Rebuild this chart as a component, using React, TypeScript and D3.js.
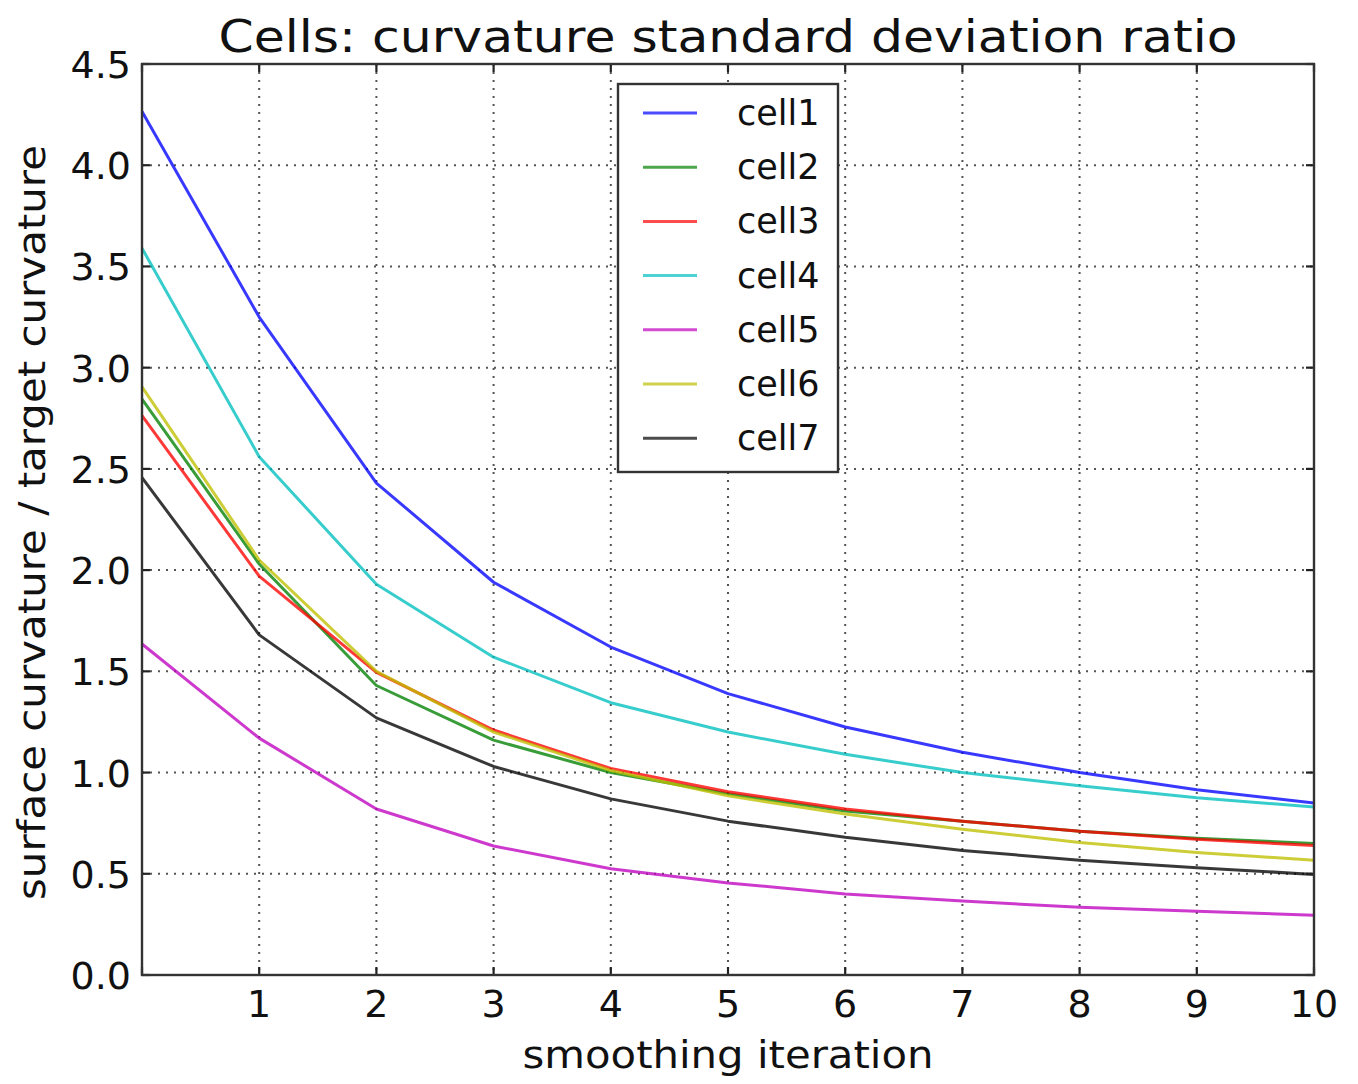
import React from "react";
import * as d3 from "d3";

const iterations = [0, 1, 2, 3, 4, 5, 6, 7, 8, 9, 10];
const seriesNames = ["cell1", "cell2", "cell3", "cell4", "cell5", "cell6", "cell7"];
const seriesColors = ["#0000ff", "#008000", "#ff0000", "#00bfbf", "#bf00bf", "#bfbf00", "#000000"];
const cell1 = [4.265, 3.25, 2.43, 1.94, 1.62, 1.39, 1.225, 1.1, 1.0, 0.915, 0.85];
const cell2 = [2.845, 2.03, 1.43, 1.16, 1.0, 0.895, 0.81, 0.76, 0.71, 0.675, 0.65];
const cell3 = [2.763, 1.97, 1.495, 1.21, 1.02, 0.905, 0.82, 0.76, 0.71, 0.67, 0.64];
const cell4 = [3.59, 2.56, 1.93, 1.57, 1.345, 1.2, 1.09, 1.0, 0.935, 0.875, 0.83];
const cell5 = [1.635, 1.17, 0.82, 0.637, 0.525, 0.455, 0.4, 0.365, 0.335, 0.315, 0.295];
const cell6 = [2.905, 2.05, 1.5, 1.2, 1.01, 0.885, 0.795, 0.72, 0.655, 0.605, 0.567];
const cell7 = [2.457, 1.68, 1.27, 1.03, 0.87, 0.76, 0.68, 0.615, 0.567, 0.53, 0.497];
const allSeries = [cell1, cell2, cell3, cell4, cell5, cell6, cell7];
const xTicks = [1, 2, 3, 4, 5, 6, 7, 8, 9, 10];
const xGrid = [0, 1, 2, 3, 4, 5, 6, 7, 8, 9, 10];
const yTicks = [0, 0.5, 1.0, 1.5, 2.0, 2.5, 3.0, 3.5, 4.0, 4.5];
const titleText = "Cells: curvature standard deviation ratio";
const xLabelText = "smoothing iteration";
const yLabelText = "surface curvature / target curvature";

const W = 1358;
const H = 1084;
const L = 142, R = 1314, T = 64, B = 975;
const FONT = "DejaVu Sans, sans-serif";

export default function App() {
  const x = d3.scaleLinear().domain([0, 10]).range([L, R]);
  const y = d3.scaleLinear().domain([0, 4.5]).range([B, T]);
  const line = d3
    .line<number>()
    .x((_, i) => x(iterations[i]))
    .y((d) => y(d));

  const tickLen = 8;
  const legX = 618, legY = 84, legW = 220, legH = 388;
  const rowY0 = 113, rowStep = 54.2;

  return (
    <svg
      width={W}
      height={H}
      style={{ position: "absolute", left: 0, top: 0, display: "block", background: "#fff" }}
      fontFamily={FONT}
    >
      <rect x={0} y={0} width={W} height={H} fill="#fff" />
      {/* grid */}
      {xGrid.map((t) => (
        <line key={"gx" + t} x1={x(t)} x2={x(t)} y1={T} y2={B} stroke="#555" strokeWidth={2} strokeDasharray="2,6" />
      ))}
      {yTicks.map((t) => (
        <line key={"gy" + t} x1={L} x2={R} y1={y(t)} y2={y(t)} stroke="#555" strokeWidth={2} strokeDasharray="2,6" />
      ))}
      {/* series */}
      {allSeries.map((s, i) => (
        <path
          key={seriesNames[i]}
          d={line(s) || ""}
          fill="none"
          stroke={seriesColors[i]}
          strokeOpacity={0.78}
          strokeWidth={3}
          strokeLinejoin="round"
        />
      ))}
      {/* ticks */}
      {xGrid.map((t) => (
        <g key={"tx" + t}>
          <line x1={x(t)} x2={x(t)} y1={B} y2={B - tickLen} stroke="#222" strokeWidth={2.2} />
          <line x1={x(t)} x2={x(t)} y1={T} y2={T + tickLen} stroke="#222" strokeWidth={2.2} />
        </g>
      ))}
      {yTicks.map((t) => (
        <g key={"ty" + t}>
          <line x1={L} x2={L + tickLen} y1={y(t)} y2={y(t)} stroke="#222" strokeWidth={2.2} />
          <line x1={R} x2={R - tickLen} y1={y(t)} y2={y(t)} stroke="#222" strokeWidth={2.2} />
        </g>
      ))}
      {/* frame */}
      <rect x={L} y={T} width={R - L} height={B - T} fill="none" stroke="#333" strokeWidth={2.4} />
      {/* tick labels */}
      {xTicks.map((t) => (
        <text key={"lx" + t} x={x(t)} y={1017} textAnchor="middle" fontSize={38} fill="#111">
          {t}
        </text>
      ))}
      {yTicks.map((t) => (
        <text key={"ly" + t} x={131} y={y(t) + 14} textAnchor="end" fontSize={38} fill="#111">
          {t.toFixed(1)}
        </text>
      ))}
      {/* title and axis labels */}
      <text x={728} y={52} textAnchor="middle" fontSize={45} fill="#111" textLength={1019} lengthAdjust="spacingAndGlyphs">
        {titleText}
      </text>
      <text x={728} y={1068} textAnchor="middle" fontSize={37} fill="#111" textLength={411} lengthAdjust="spacingAndGlyphs">
        {xLabelText}
      </text>
      <text
        transform={`translate(45, ${(145 + 900) / 2}) rotate(-90)`}
        textAnchor="middle"
        fontSize={37}
        fill="#111"
        textLength={755}
        lengthAdjust="spacingAndGlyphs"
      >
        {yLabelText}
      </text>
      {/* legend */}
      <rect x={legX} y={legY} width={legW} height={legH} fill="#fff" stroke="#333" strokeWidth={2.4} />
      {seriesNames.map((n, i) => (
        <g key={"leg" + n}>
          <line
            x1={643}
            x2={697}
            y1={rowY0 + i * rowStep}
            y2={rowY0 + i * rowStep}
            stroke={seriesColors[i]}
            strokeOpacity={0.7}
            strokeWidth={3}
          />
          <text x={737} y={rowY0 + i * rowStep + 12} fontSize={35} fill="#111">
            {n}
          </text>
        </g>
      ))}
    </svg>
  );
}
